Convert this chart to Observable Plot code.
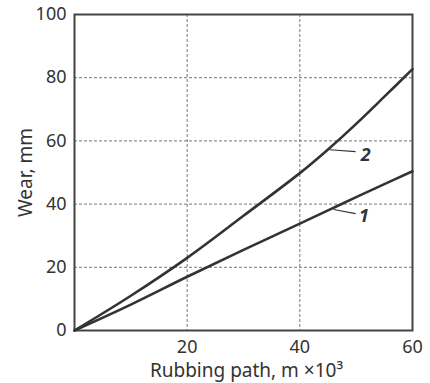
<!DOCTYPE html>
<html>
<head>
<meta charset="utf-8">
<script src="https://cdn.jsdelivr.net/npm/d3@7"></script>
<script src="https://cdn.jsdelivr.net/npm/@observablehq/plot@0.6"></script>
<style>
  html, body { margin: 0; padding: 0; background: #fff; }
</style>
</head>
<body>
<div id="chart"></div>
<script>
// Rubbing path (m ×10³)
const pathX = [0, 10, 20, 30, 40, 45, 50, 55, 60];
// Curve 1 wear (mm)
const wear1 = [0, 8.2, 17, 25.5, 33.8, 38, 42.2, 46.3, 50.4];
// Curve 2 wear (mm)
const wear2 = [0, 11, 23, 36.3, 49.8, 57.3, 65.4, 74, 82.7];
const xTicks = [20, 40, 60];
const yTicks = [0, 20, 40, 60, 80, 100];
const xGrid = [20, 40];
const yGrid = [20, 40, 60, 80];
const curveNames = ["1", "2"];
// leader lines: [x, y] start and end, and label positions
const leaderStart = [[46, 38.3], [45.3, 57.2]];
const leaderEnd = [[49.9, 37], [49.9, 56.6]];
const labelPos = [[51.4, 36.2], [51.7, 55.6]];

const series = [
  ...pathX.map((x, i) => ({x, y: wear1[i], curve: "1"})),
  ...pathX.map((x, i) => ({x, y: wear2[i], curve: "2"}))
];
const leaders = curveNames.map((c, i) => ({
  x1: leaderStart[i][0], y1: leaderStart[i][1],
  x2: leaderEnd[i][0], y2: leaderEnd[i][1]
}));
const labels = curveNames.map((c, i) => ({x: labelPos[i][0], y: labelPos[i][1], text: c}));

const chart = Plot.plot({
  width: 430,
  height: 383,
  marginLeft: 74,
  marginRight: 18,
  marginTop: 14,
  marginBottom: 53,
  style: {fontFamily: "'Noto Sans', sans-serif", fontSize: "18px", color: "#333", background: "#fff"},
  x: {domain: [0, 60]},
  y: {domain: [0, 100]},
  marks: [
    Plot.gridX(xGrid, {stroke: "#777", strokeOpacity: 1, strokeWidth: 1, strokeDasharray: "3,2"}),
    Plot.gridY(yGrid, {stroke: "#777", strokeOpacity: 1, strokeWidth: 1, strokeDasharray: "3,2"}),
    Plot.axisX(xTicks, {tickSize: 0, tickPadding: 10, label: null, fill: "#333"}),
    Plot.axisY(yTicks, {tickSize: 0, tickPadding: 8, label: null, fill: "#333"}),
    Plot.frame({stroke: "#444", strokeWidth: 2}),
    Plot.line(series, {x: "x", y: "y", z: "curve", curve: "catmull-rom", stroke: "#333", strokeWidth: 2.6}),
    Plot.link(leaders, {x1: "x1", y1: "y1", x2: "x2", y2: "y2", stroke: "#333", strokeWidth: 1.2}),
    Plot.text(labels, {x: "x", y: "y", text: "text", fontWeight: "bold", fontStyle: "italic", fontSize: 18, fill: "#333"}),
    Plot.text(["Rubbing path, m ×10³"], {frameAnchor: "bottom", textAnchor: "middle", lineAnchor: "middle", dy: 40, dx: 3, fontSize: 19, fill: "#333"}),
    Plot.text(["Wear, mm"], {frameAnchor: "left", textAnchor: "middle", lineAnchor: "middle", rotate: -90, dx: -49, fontSize: 19, fill: "#333"})
  ]
});
document.getElementById("chart").appendChild(chart);
</script>
</body>
</html>
